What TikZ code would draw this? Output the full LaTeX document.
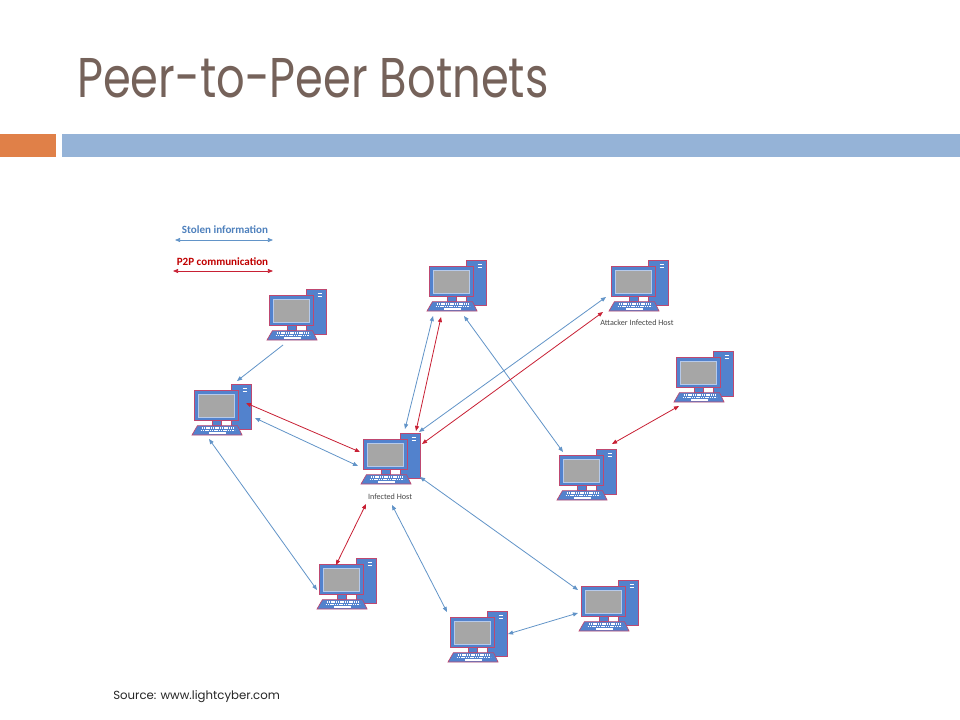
\documentclass[tikz,border=0pt]{standalone}
\usepackage{fontspec}
\setmainfont{Carlito}
\newfontfamily\titlefont{Poppins}
\usetikzlibrary{arrows.meta}
\definecolor{compblue}{RGB}{82,130,205}
\definecolor{compedge}{RGB}{190,72,112}
\definecolor{scrgray}{RGB}{166,166,166}
\definecolor{scredge}{RGB}{182,202,235}
\definecolor{lineblue}{RGB}{98,148,200}
\definecolor{linered}{RGB}{200,32,52}
\definecolor{legblue}{RGB}{79,129,189}
\definecolor{legred}{RGB}{192,0,0}
\definecolor{titlecol}{RGB}{117,98,90}
\definecolor{barorange}{RGB}{224,128,72}
\definecolor{barblue}{RGB}{149,179,215}
\definecolor{labgray}{RGB}{70,70,70}
\tikzset{
  pics/computer/.style={code={
    \filldraw[fill=compblue, draw=compedge, line width=0.5pt] (39.5,-51) rectangle (59,-6);
    \draw[white, line width=1pt] (50.5,-46.5) -- (54.5,-46.5) (50.5,-43.6) -- (54.5,-43.6);
    \filldraw[fill=compblue, draw=compedge, line width=0.5pt] (2.7,-44.3) rectangle (46.7,-14.3);
    \filldraw[fill=scrgray, draw=scredge, line width=0.9pt] (6.6,-40.8) rectangle (42.8,-17.8);
    \filldraw[fill=compblue, draw=compedge, line width=0.4pt] (20.7,-14.3) rectangle (29.7,-9.3);
    \filldraw[fill=compblue, draw=compedge, line width=0.5pt] (5.4,-9.3) -- (45.6,-9.3) -- (50,0) -- (0,0) -- cycle;
    \draw[white, line width=0.9pt, dash pattern=on 1.1pt off 0.6pt] (9.5,-7) -- (41.5,-7);
    \draw[white, line width=0.9pt, dash pattern=on 1.1pt off 0.6pt] (8.5,-4.6) -- (42.5,-4.6);
    \draw[white, line width=0.9pt] (17,-2.1) -- (34,-2.1);
    \node[inner sep=0pt, minimum width=44.25pt, minimum height=38.25pt, anchor=south west] (-box) at (0,0) {};
  }},
  stolen/.style={draw=lineblue, line width=0.6pt, >={Triangle[length=3.8pt,width=3pt]}},
  p2p/.style={draw=linered, line width=0.6pt, >={Triangle[length=3.8pt,width=3pt]}},
  legtext/.style={font=\bfseries\fontsize{8.3}{10}\selectfont, inner sep=0pt},
  hostlabel/.style={font=\fontsize{6.1}{7.3}\selectfont, text=labgray, inner sep=0pt},
}
\begin{document}
\begin{tikzpicture}[x=0.75pt, y=-0.75pt]
\useasboundingbox (0,0) rectangle (960,720);
\fill[white] (0,0) rectangle (960,720);

% title and bars
\node[anchor=base west, inner sep=0pt, text=titlecol, font=\titlefont\fontsize{42}{50}\selectfont] (title) at (77,98) {\scalebox{0.80}[1]{Peer-to-Peer Botnets}};
\fill[barorange] (0,134) rectangle (56,157);
\fill[barblue] (62,134) rectangle (960,157);

% legend
\node[legtext, text=legblue] (legs) at (225,230) {Stolen information};
\coordinate (ls1) at (175,240);
\coordinate (ls2) at (273,240);
\draw[stolen, <->] (ls1) -- (ls2);
\node[legtext, text=legred] (legp) at (222.5,262) {P2P communication};
\coordinate (lp1) at (173,271);
\coordinate (lp2) at (273,271);
\draw[p2p, <->] (lp1) -- (lp2);

% computers
\pic (c1) at (267,340) {computer};
\pic (c2) at (192,435) {computer};
\pic (c3) at (361,484) {computer};
\pic (c4) at (427,311) {computer};
\pic (c5) at (609,311) {computer};
\pic (c6) at (674,402) {computer};
\pic (c7) at (557,500) {computer};
\pic (c8) at (317,609) {computer};
\pic (c9) at (448,662) {computer};
\pic (c10) at (579,631) {computer};

\node[hostlabel] (lab3) at (390,497) {Infected Host};
\node[hostlabel] (lab5) at (637,323) {Attacker Infected Host};

% connector end points
\coordinate (c1s) at (283,345);
\coordinate (c2n) at (237,381);
\coordinate (c2eb) at (255,418);
\coordinate (c3wb) at (358,466);
\coordinate (c2er) at (246,403);
\coordinate (c3wr) at (360,452);
\coordinate (c2s) at (209,439);
\coordinate (c8w) at (317,590);
\coordinate (c3nb) at (405,429);
\coordinate (c4sb) at (433,316);
\coordinate (c3nr) at (416,431);
\coordinate (c4sr) at (441,317);
\coordinate (c3eb) at (419,432);
\coordinate (c5wb) at (606,297);
\coordinate (c3er) at (422,444);
\coordinate (c5wr) at (603,312);
\coordinate (c4se) at (464,316);
\coordinate (c7n) at (563,452);
\coordinate (c7ne) at (612,444);
\coordinate (c6sw) at (679,406);
\coordinate (c3sr) at (366,504);
\coordinate (c8n) at (336,565);
\coordinate (c3sb) at (392,505);
\coordinate (c9n) at (447,612);
\coordinate (c3se) at (420,477);
\coordinate (c10nw) at (578,590);
\coordinate (c9e) at (508,634);
\coordinate (c10w) at (578,613);

% stolen information (blue)
\draw[stolen, ->] (c1s) -- (c2n);
\draw[stolen, <->] (c2eb) -- (c3wb);
\draw[stolen, <->] (c2s) -- (c8w);
\draw[stolen, <->] (c3nb) -- (c4sb);
\draw[stolen, <->] (c3eb) -- (c5wb);
\draw[stolen, <->] (c4se) -- (c7n);
\draw[stolen, <->] (c3sb) -- (c9n);
\draw[stolen, <->] (c3se) -- (c10nw);
\draw[stolen, <->] (c9e) -- (c10w);

% P2P communication (red)
\draw[p2p, <->] (c2er) -- (c3wr);
\draw[p2p, <->] (c3nr) -- (c4sr);
\draw[p2p, <->] (c3er) -- (c5wr);
\draw[p2p, <->] (c7ne) -- (c6sw);
\draw[p2p, <->] (c3sr) -- (c8n);

% source
\node[anchor=base west, inner sep=0pt, font=\titlefont\fontsize{8.8}{11}\selectfont, text=black!85] (src) at (113,699) {Source: www.lightcyber.com};
\end{tikzpicture}
\end{document}
